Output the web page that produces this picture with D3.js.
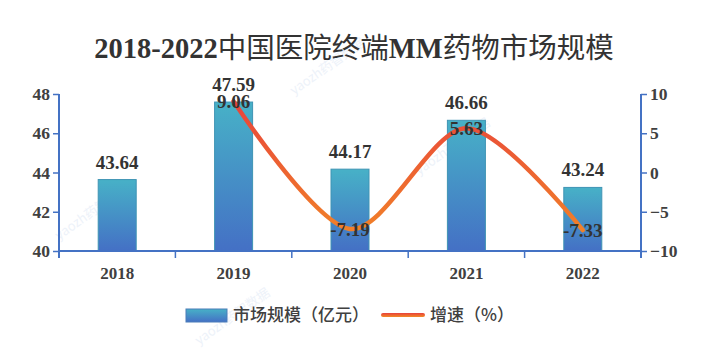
<!DOCTYPE html>
<html><head><meta charset="utf-8">
<script src="https://cdn.jsdelivr.net/npm/d3@7"></script>
<style>
body{margin:0;background:#fff;}
svg{display:block;}
</style></head>
<body><svg id="c" width="706" height="359"></svg>
<script>
const categories = ["2018","2019","2020","2021","2022"];
const marketSize = [43.64, 47.59, 44.17, 46.66, 43.24];
const growth = [null, 9.06, -7.19, 5.63, -7.33];
const leftTicks = [40, 42, 44, 46, 48];
const rightTicks = [-10, -5, 0, 5, 10];
const titleParts = [["2018-2022","serif"],["中国医院终端","cjk"],["MM","serif"],["药物市场规模","cjk"]];
const legendLabels = ["市场规模（亿元）", "增速（%）"];

const svg = d3.select("#c");
const serif = "'Liberation Serif','Times New Roman',serif";
const cjk = "'Noto Sans CJK SC','Noto Sans',sans-serif";
const axisColor = "#4472c4";
const textColor = "#404040";

const m = {l:59, r:641, t:94, b:251};
const x = d3.scaleBand().domain(categories).range([m.l, m.r]);
const yL = d3.scaleLinear().domain([40,48]).range([m.b, m.t]);
const yR = d3.scaleLinear().domain([-10,10]).range([m.b, m.t]);

const defs = svg.append("defs");
const bg = defs.append("linearGradient").attr("id","barG").attr("x1",0).attr("y1",0).attr("x2",0).attr("y2",1);
bg.append("stop").attr("offset","0%").attr("stop-color","#47b1c7");
bg.append("stop").attr("offset","100%").attr("stop-color","#4470c5");
const lg = defs.append("linearGradient").attr("id","lineG").attr("gradientUnits","userSpaceOnUse")
  .attr("x1",0).attr("y1",m.t).attr("x2",0).attr("y2",m.b);
lg.append("stop").attr("offset","0%").attr("stop-color","#e8403c");
lg.append("stop").attr("offset","100%").attr("stop-color","#f28a26");
const lgL = defs.append("linearGradient").attr("id","lineGL").attr("x1",0).attr("y1",0).attr("x2",0).attr("y2",1);
lgL.append("stop").attr("offset","0%").attr("stop-color","#e8403c");
lgL.append("stop").attr("offset","100%").attr("stop-color","#f28a26");

// faint watermarks
const wm = [[330,70],[95,215],[455,150],[235,320]];
svg.append("g").selectAll("text").data(wm).join("text")
  .attr("transform", d => `translate(${d[0]},${d[1]}) rotate(-35)`)
  .attr("text-anchor","middle").attr("font-family",cjk).attr("font-size",13)
  .attr("fill","#d3e0f2").attr("opacity",0.4).text("yaozh药智数据");

// title
const title = svg.append("text").attr("x",354).attr("y",58).attr("text-anchor","middle")
  .attr("fill","#333").attr("font-size",28.5);
titleParts.forEach(p => title.append("tspan")
  .attr("font-family", p[1]==="serif"?serif:cjk)
  .attr("font-weight", p[1]==="serif"?"bold":"normal")
  .text(p[0]));

// bars
const bw = 38;
svg.append("g").selectAll("rect").data(marketSize).join("rect")
  .attr("x",(d,i)=>x(categories[i])+x.bandwidth()/2-bw/2)
  .attr("y",d=>yL(d)).attr("width",bw).attr("height",d=>yL(40)-yL(d))
  .attr("fill","url(#barG)").attr("stroke","#3f94b4").attr("stroke-width",1);

// axes
const axL = svg.append("g").attr("transform",`translate(${m.l},0)`)
  .call(d3.axisLeft(yL).tickValues(leftTicks).tickSize(6).tickSizeOuter(0).tickFormat(d3.format("d")));
const axR = svg.append("g").attr("transform",`translate(${m.r},0)`)
  .call(d3.axisRight(yR).tickValues(rightTicks).tickSize(6).tickSizeOuter(0).tickFormat(d3.format("d")));
[axL, axR].forEach(a => {
  a.select(".domain").remove();
  a.selectAll(".tick line").attr("stroke",axisColor).attr("stroke-width",1.5);
  a.selectAll(".tick text").attr("font-family",serif).attr("font-weight","bold").attr("font-size",17.5).attr("fill",textColor);
  a.append("line").attr("x1",0).attr("x2",0).attr("y1",m.t).attr("y2",m.b+7)
    .attr("stroke",axisColor).attr("stroke-width",2);
});
axL.selectAll(".tick text").attr("x",-9);
axR.selectAll(".tick text").attr("x",9);

const axB = svg.append("g").attr("transform",`translate(0,${m.b})`)
  .call(d3.axisBottom(x).tickSize(0).tickPadding(16));
axB.select(".domain").remove();
axB.selectAll(".tick text").attr("font-family",serif).attr("font-weight","bold").attr("font-size",17).attr("fill",textColor);
axB.append("line").attr("x1",m.l).attr("x2",m.r).attr("y1",0).attr("y2",0).attr("stroke",axisColor).attr("stroke-width",2);
axB.selectAll("line.sep").data(categories.slice(1)).join("line").attr("class","sep")
  .attr("x1",d=>x(d)).attr("x2",d=>x(d)).attr("y1",0).attr("y2",7)
  .attr("stroke",axisColor).attr("stroke-width",1.5);

// bar labels
svg.append("g").selectAll("text").data(marketSize).join("text")
  .attr("x",(d,i)=>x(categories[i])+x.bandwidth()/2).attr("y",d=>yL(d)-11)
  .attr("text-anchor","middle").attr("font-family",serif).attr("font-weight","bold")
  .attr("font-size",19).attr("fill","#333").text(d=>d.toFixed(2));

// growth line
const pts = growth.map((g,i)=>({c:categories[i],g})).filter(d=>d.g!==null);
const line = d3.line().x(d=>x(d.c)+x.bandwidth()/2).y(d=>yR(d.g)).curve(d3.curveCardinal.tension(0.1));
svg.append("path").datum(pts).attr("d",line).attr("fill","none")
  .attr("stroke","url(#lineG)").attr("stroke-width",4.5).attr("stroke-linecap","round");

svg.append("g").selectAll("text").data(pts).join("text")
  .attr("x",d=>x(d.c)+x.bandwidth()/2).attr("y",d=>yR(d.g)+7)
  .attr("text-anchor","middle").attr("font-family",serif).attr("font-weight","bold")
  .attr("font-size",19).attr("fill","#333").text(d=>d.g.toFixed(2));

// legend
const leg = svg.append("g");
leg.append("rect").attr("x",186).attr("y",309).attr("width",41).attr("height",13)
  .attr("fill","url(#barG)").attr("stroke","#4a7db8").attr("stroke-width",1);
leg.append("text").attr("x",233).attr("y",321).attr("font-family",cjk).attr("font-size",17)
  .attr("font-weight",500).attr("fill",textColor).text(legendLabels[0]);
leg.append("rect").attr("x",381).attr("y",313).attr("width",44).attr("height",4).attr("rx",2)
  .attr("fill","url(#lineGL)");
leg.append("text").attr("x",430).attr("y",321).attr("font-family",cjk).attr("font-size",17)
  .attr("font-weight",500).attr("fill",textColor).text(legendLabels[1]);
</script></body></html>
